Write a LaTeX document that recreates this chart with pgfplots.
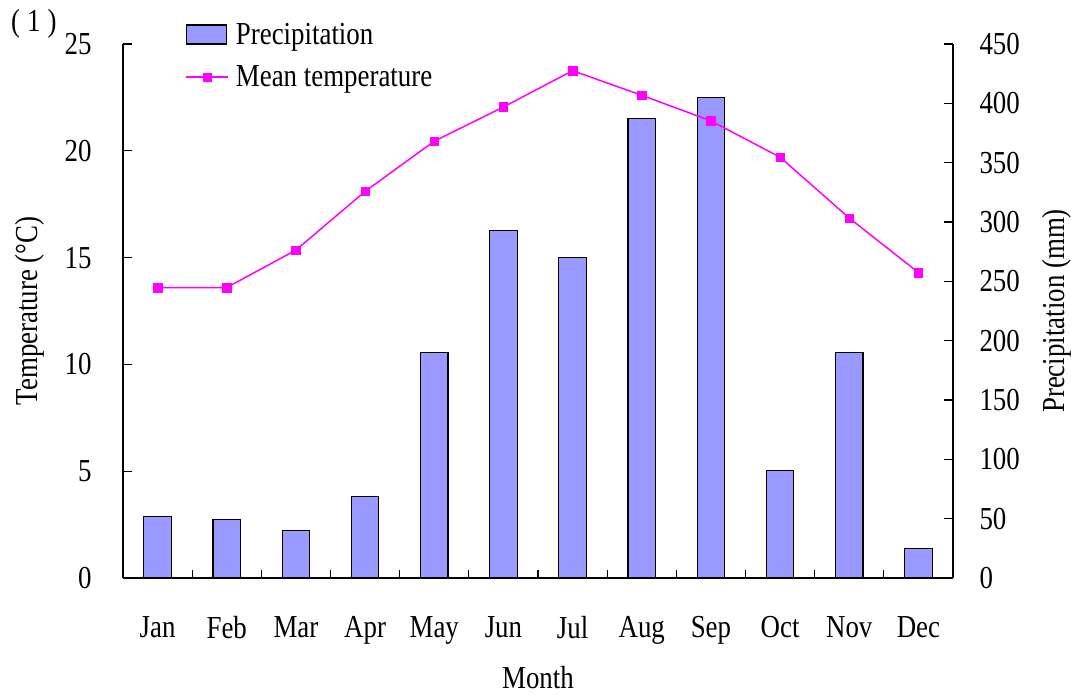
\documentclass[border=0pt]{standalone}
\usepackage{fontspec}
\setmainfont{Liberation Serif}[FakeStretch=0.84]
\usepackage{pgfplots}
\usepackage{pgfplotstable}
\pgfplotsset{compat=1.18}
\definecolor{barblue}{RGB}{153,153,255}
\definecolor{tempmag}{RGB}{255,0,255}
\pgfplotsset{
  barlegend/.style={legend image code/.code={\draw[##1] (0bp,-9.5bp) rectangle (40bp,9.5bp);}},
  linelegend/.style={legend image code/.code={\draw[##1, mark repeat=2, mark phase=2] plot coordinates {(0bp,0bp) (21bp,0bp) (42bp,0bp)};}},
}

\pgfplotstableread{
m prec temp
1  51.5 13.6
2  49.0 13.6
3  39.7 15.35
4  68.4 18.1
5  190  20.45
6  293  22.05
7  270  23.75
8  387.5 22.6
9  405  21.4
10 90.3 19.7
11 190  16.85
12 24.5 14.3
}\datatable

\begin{document}
\begin{tikzpicture}[font=\fontsize{32bp}{36bp}\selectfont]
\pgfplotsset{
  common/.style={
    scale only axis, width=830bp, height=534bp,
    at={(123bp,117bp)}, anchor=south west,
    xmin=0.5, xmax=12.5, ymin=0,
    tick align=inside,
    /pgf/number format/assume math mode=true,
    tick label style={font=\fontsize{32bp}{36bp}\selectfont},
    label style={font=\fontsize{32bp}{36bp}\selectfont},
    axis line style={line width=1.1bp, black},
    every tick/.style={line width=1.1bp, black},
    major tick length=9bp, minor tick length=8bp,
    clip=false,
  },
}
\begin{axis}[common,
  ymax=450,
  axis y line*=right, axis x line*=bottom,
  ytick={0,50,...,450},
  yticklabel style={xshift=23bp},
  xtick={1,...,12},
  xticklabels={Jan,Feb,Mar,Apr,May,Jun,Jul,Aug,Sep,Oct,Nov,Dec},
  major x tick style={draw=none},
  minor xtick={0.5,1.5,...,12.5},
  xticklabel style={yshift=-35bp},
  xlabel={Month},
  every axis x label/.style={at={(axis description cs:0.5,-0.187)}, anchor=center},
  ylabel={Precipitation (mm)},
  every axis y label/.style={at={(axis description cs:1.125,0.5)}, anchor=center, rotate=90},
]
\addplot[ybar, bar width=27.5bp, fill=barblue, draw=black, line width=1.1bp] table[x=m,y=prec]{\datatable};
\end{axis}
\begin{axis}[common,
  ymax=25,
  axis y line*=left, axis x line=none,
  ytick={0,5,...,25},
  yticklabel style={xshift=-28bp},
  ylabel={Temperature (°C)},
  every axis y label/.style={at={(axis description cs:-0.112,0.5)}, anchor=center, rotate=90},
  legend style={draw=none, fill=none, at={(axis description cs:0.075,1.045)}, anchor=north west,
    row sep=14bp, font=\fontsize{32bp}{36bp}\selectfont, inner sep=0pt,
    nodes={inner sep=3bp}, column sep=4bp},
  legend cell align=left,
]
\addlegendimage{fill=barblue, draw=black, line width=1.1bp, barlegend}
\addlegendentry{Precipitation}
\addplot[tempmag, line width=1.5bp, mark=square*, mark size=4.3bp,
  mark options={fill=tempmag, draw=tempmag, line width=0.5bp}, linelegend]
  table[x=m,y=temp]{\datatable};
\addlegendentry{Mean temperature}
\end{axis}
\node[anchor=west, inner sep=0pt] at (11bp,671bp) {(\hspace{7bp}1\hspace{7bp})};
\pgfresetboundingbox
\useasboundingbox (0,0) rectangle (1071bp,695bp);
\end{tikzpicture}
\end{document}
